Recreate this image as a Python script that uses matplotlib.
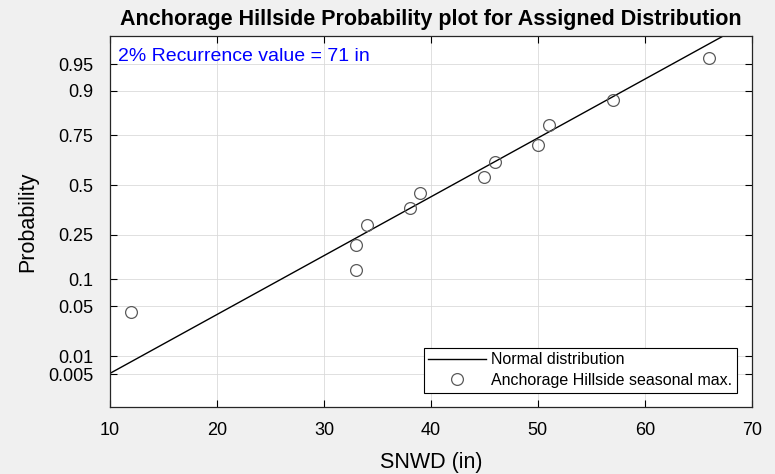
import matplotlib
matplotlib.use("Agg")
import matplotlib.pyplot as plt
import numpy as np
from statistics import NormalDist

# data
snwd = [12, 33, 33, 34, 38, 39, 45, 46, 50, 51, 57, 66]
prob = [0.042, 0.125, 0.208, 0.292, 0.375, 0.458, 0.542, 0.625, 0.708, 0.792, 0.875, 0.958]
fit_mu = 42.0
fit_sigma = 12.5
prob_ticks = [0.005, 0.01, 0.05, 0.1, 0.25, 0.5, 0.75, 0.9, 0.95]
prob_labels = ["0.005", "0.01", "0.05", "0.1", "0.25", "0.5", "0.75", "0.9", "0.95"]
x_ticks = [10, 20, 30, 40, 50, 60, 70]

nd = NormalDist()

plt.rcParams['font.family'] = ['Liberation Sans', 'DejaVu Sans']

fig = plt.figure(figsize=(7.75, 4.74), dpi=100, facecolor="#f0f0f0")
ax = fig.add_axes([0.142, 0.141, 0.828, 0.782])
ax.set_facecolor("white")

# fitted normal line across the x range
xl = np.array([10, 70])
ax.plot(xl, (xl - fit_mu) / fit_sigma, color="black", lw=1.0, label="Normal distribution")

# data in z-space (normal probability scale)
zs = [nd.inv_cdf(p) for p in prob]
ax.plot(snwd, zs, linestyle="none", marker="o", markersize=8.5, markerfacecolor="none",
        markeredgecolor="#5a5a5a", markeredgewidth=0.9,
        label="Anchorage Hillside seasonal max.")

ax.set_xlim(10, 70)
ax.set_ylim(-3.02, 2.02)
ax.set_xticks(x_ticks)
ax.set_yticks([nd.inv_cdf(p) for p in prob_ticks])
ax.set_yticklabels(prob_labels)
ax.tick_params(direction="in", top=True, right=True, length=5, width=0.8,
               labelsize=13, colors="black")
ax.tick_params(axis="y", pad=12)
ax.tick_params(axis="x", pad=11)
ax.grid(True, color="#dadada", lw=0.6)
ax.set_axisbelow(True)
for s in ax.spines.values():
    s.set_color("#262626")
    s.set_linewidth(0.9)

ax.set_xlabel("SNWD (in)", fontsize=15.5, labelpad=9)
ax.set_ylabel("Probability", fontsize=15.5, labelpad=7)
ax.set_title("Anchorage Hillside Probability plot for Assigned Distribution",
             fontsize=15.5, fontweight="bold", pad=8)

ax.text(0.012, 0.946, "2% Recurrence value = 71 in", transform=ax.transAxes,
        color="blue", fontsize=14, ha="left", va="center")

leg = ax.legend(loc="lower right", fontsize=11.5, frameon=True, fancybox=False,
                edgecolor="black", framealpha=1, borderaxespad=0.9,
                handlelength=3.6, handletextpad=0.35, borderpad=0.3,
                labelspacing=0.35)
leg.get_frame().set_linewidth(0.8)

fig.savefig("out.png", dpi=100, facecolor=fig.get_facecolor())
